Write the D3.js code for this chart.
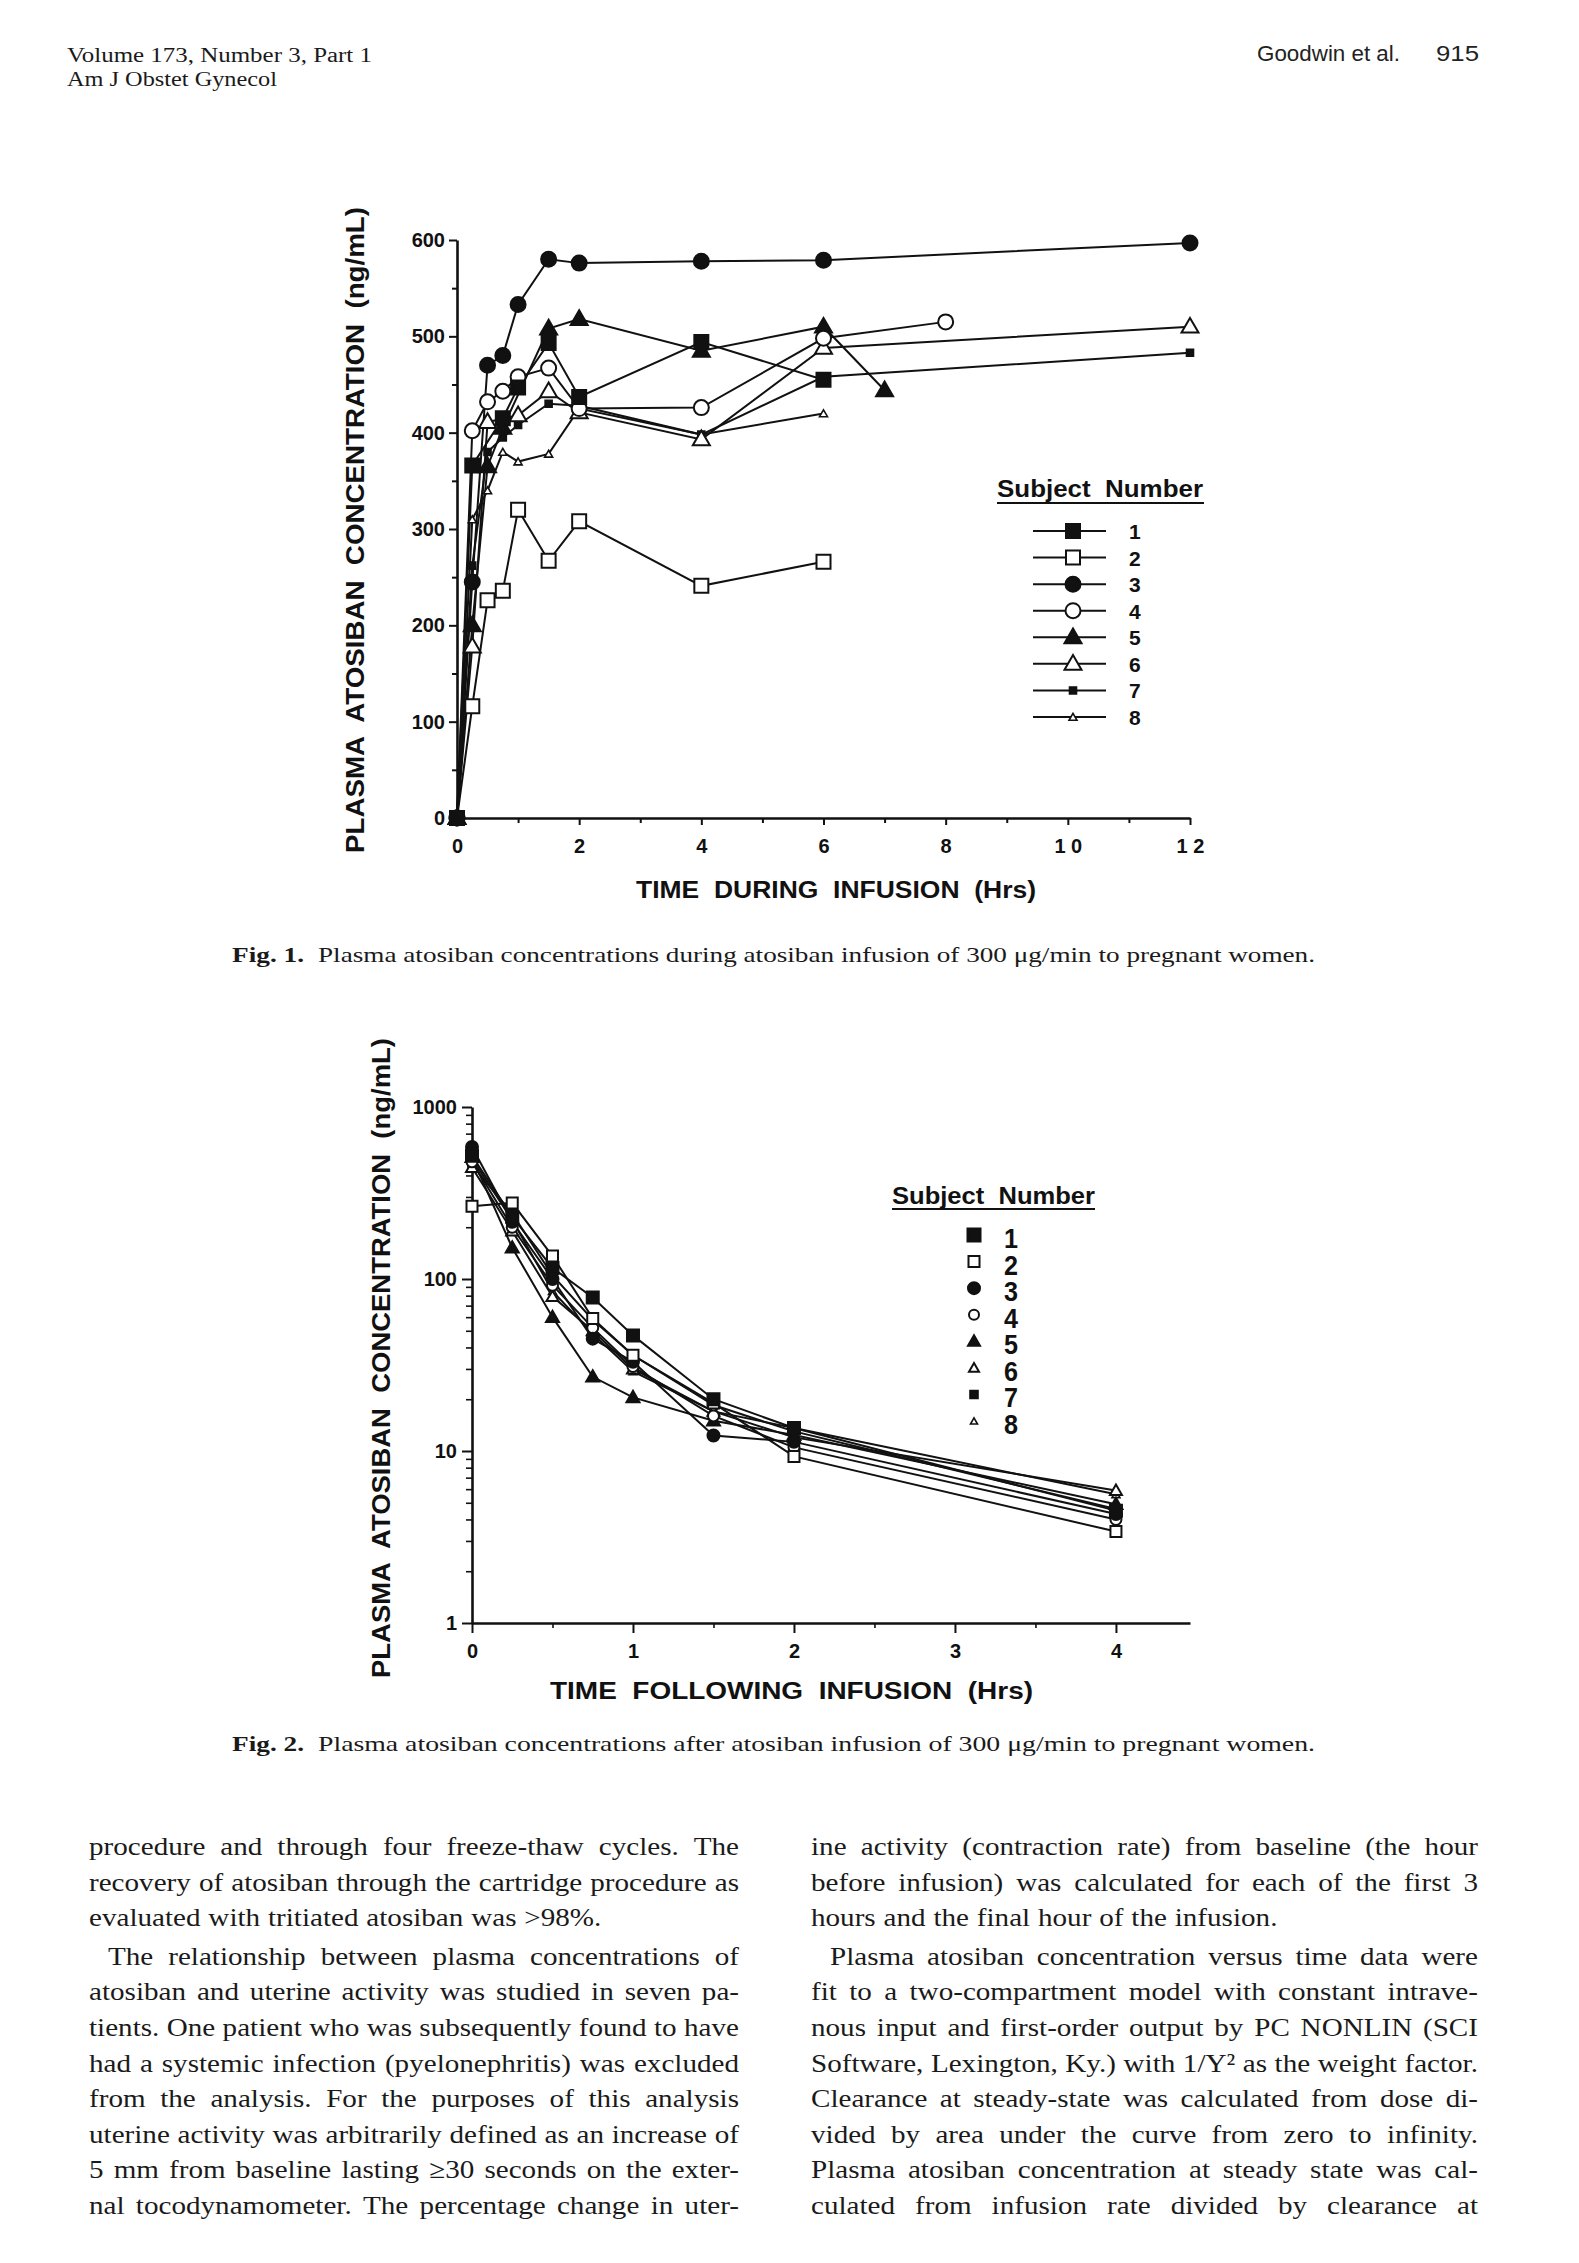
<!DOCTYPE html>
<html>
<head>
<meta charset="utf-8">
<script src="https://cdn.jsdelivr.net/npm/d3@7"></script>
<style>
  body { margin: 0; background: #fff; }
  svg { display: block; }
  .sans { font-family: 'Liberation Sans', Arial, Helvetica, sans-serif; font-weight: bold; fill: #111; }
  .serif { font-family: 'Liberation Serif', 'Times New Roman', serif; fill: #1a1a1a; }
</style>
</head>
<body>
<svg id="page" width="1579" height="2263"></svg>
<script>
// ---- Fig. 1 data: plasma atosiban (ng/mL) during infusion, null = not plotted
const duringHours = [0, 0.25, 0.5, 0.75, 1, 1.5, 2, 4, 6, 7, 8, 12];
const during1 = [0, 366, null, 415, 447, 493, 437, 494, 455, null, null, null];
const during2 = [0, 116, 226, 236, 320, 267, 308, 241, 266, null, null, null];
const during3 = [0, 245, 470, 480, 533, 580, 576, 578, 579, null, null, 597];
const during4 = [0, 402, 432, 443, 458, 467, 425, 426, 498, null, 515, null];
const during5 = [0, 200, 365, 405, null, 508, 518, 485, 510, 444, null, null];
const during6 = [0, 178, 411, null, 418, 443, 421, 393, 488, null, null, 510];
const during7 = [0, 262, 380, 395, 408, 430, 428, 398, 458, null, null, 483];
const during8 = [0, 310, 340, 380, 370, 378, 425, 398, 420, null, null, null];

// ---- Fig. 2 data: plasma atosiban (ng/mL) after infusion (log scale)
const afterHours = [0, 0.25, 0.5, 0.75, 1, 1.5, 2, 4];
const after1 = [520, 230, 116, 78, 47, 20, 13.6, 4.5];
const after2 = [265, 277, 136, 59, 36, 19, 9.3, 3.4];
const after3 = [585, 215, 100, 45, 33, 12.3, 11.3, 4.3];
const after4 = [480, 200, 92, 52, 31, 16, 10.5, 4.0];
const after5 = [510, 152, 60, 27, 20.5, 15, 12.4, 4.9];
const after6 = [445, 190, 79, 50, 30, 17, 12, 5.9];
const after7 = [460, 240, 105, 58, 36, 18.5, 13, 4.6];
const after8 = [500, 220, 85, 48, 29, 17, 13.6, 5.6];

const subjects = ['1', '2', '3', '4', '5', '6', '7', '8'];
const hourLabels1 = ['0', '2', '4', '6', '8', '1 0', '1 2'];
const concLabels1 = ['0', '100', '200', '300', '400', '500', '600'];
const hourLabels2 = ['0', '1', '2', '3', '4'];
const concLabels2 = ['1', '10', '100', '1000'];

const leftLines = [
  'procedure and through four freeze-thaw cycles. The',
  'recovery of atosiban through the cartridge procedure as',
  'evaluated with tritiated atosiban was >98%.',
  'The relationship between plasma concentrations of',
  'atosiban and uterine activity was studied in seven pa-',
  'tients. One patient who was subsequently found to have',
  'had a systemic infection (pyelonephritis) was excluded',
  'from the analysis. For the purposes of this analysis',
  'uterine activity was arbitrarily defined as an increase of',
  '5 mm from baseline lasting \u226530 seconds on the exter-',
  'nal tocodynamometer. The percentage change in uter-'
];
const rightLines = [
  'ine activity (contraction rate) from baseline (the hour',
  'before infusion) was calculated for each of the first 3',
  'hours and the final hour of the infusion.',
  'Plasma atosiban concentration versus time data were',
  'fit to a two-compartment model with constant intrave-',
  'nous input and first-order output by PC NONLIN (SCI',
  'Software, Lexington, Ky.) with 1/Y\u00b2 as the weight factor.',
  'Clearance at steady-state was calculated from dose di-',
  'vided by area under the curve from zero to infinity.',
  'Plasma atosiban concentration at steady state was cal-',
  'culated from infusion rate divided by clearance at'
];

// marker styles per subject
const shapes = ['square', 'square', 'circle', 'circle', 'triangle', 'triangle', 'square', 'triangle'];
const filled = [true, false, true, false, true, false, true, false];
const size1 = [14, 14, 15, 15, 17, 17, 7, 8];
const size2 = [12, 11, 12, 11, 13, 12, 8, 8];

const svg = d3.select('#page');
svg.append('rect').attr('width', 1579).attr('height', 2263).attr('fill', '#fff');

function symbolPath(shape, w) {
  if (shape === 'circle') return d3.symbol(d3.symbolCircle, Math.PI * w * w / 4)();
  if (shape === 'square') return d3.symbol(d3.symbolSquare, w * w)();
  return d3.symbol(d3.symbolTriangle, Math.sqrt(3) / 4 * w * w)();
}

function marker(g, i, w, cx, cy) {
  const small = w < 9;
  g.append('path')
    .attr('d', symbolPath(shapes[i], w))
    .attr('transform', `translate(${cx},${cy + (shapes[i] === 'triangle' ? 1 : 0)})`)
    .attr('fill', filled[i] ? '#111' : '#fff')
    .attr('stroke', '#111')
    .attr('stroke-width', small ? 1.6 : 2);
}

function styleAxis(g, fontSize) {
  g.selectAll('.domain').attr('stroke', '#111').attr('stroke-width', 2.6);
  g.selectAll('.tick line').attr('stroke', '#111').attr('stroke-width', 2);
  g.selectAll('text').attr('class', 'sans').attr('font-size', fontSize).attr('fill', '#111');
}

// ---------------- header
svg.append('text').attr('class', 'serif').attr('x', 67).attr('y', 62)
  .attr('font-size', 20).attr('textLength', 305).attr('lengthAdjust', 'spacingAndGlyphs')
  .text('Volume 173, Number 3, Part 1');
svg.append('text').attr('class', 'serif').attr('x', 67).attr('y', 86)
  .attr('font-size', 20).attr('textLength', 210).attr('lengthAdjust', 'spacingAndGlyphs')
  .text('Am J Obstet Gynecol');
svg.append('text').attr('x', 1257).attr('y', 61)
  .style('font-family', "'Liberation Sans', Arial, sans-serif").attr('font-size', 22).attr('fill', '#222')
  .attr('textLength', 143).attr('lengthAdjust', 'spacingAndGlyphs').text('Goodwin et al.');
svg.append('text').attr('x', 1436).attr('y', 61)
  .style('font-family', "'Liberation Sans', Arial, sans-serif").attr('font-size', 22).attr('fill', '#222')
  .attr('textLength', 43).attr('lengthAdjust', 'spacingAndGlyphs').text('915');

// ---------------- Fig. 1
const x1 = d3.scaleLinear().domain([0, 12]).range([457, 1190]);
const y1 = d3.scaleLinear().domain([0, 600]).range([818, 240]);
const during = [during1, during2, during3, during4, during5, during6, during7, during8];

const f1 = svg.append('g');
const ax1y = f1.append('g').attr('transform', `translate(${x1(0)},0)`)
  .call(d3.axisLeft(y1).tickValues(d3.range(0, 601, 100)).tickSize(8).tickSizeOuter(0).tickPadding(4)
    .tickFormat((d, i) => concLabels1[i]));
styleAxis(ax1y, 20);
ax1y.append('g').call(d3.axisLeft(y1).tickValues(d3.range(50, 600, 100)).tickSize(5).tickFormat(''))
  .call(g => g.select('.domain').remove())
  .selectAll('line').attr('stroke', '#111').attr('stroke-width', 2);

const ax1x = f1.append('g').attr('transform', `translate(0,${y1(0)})`)
  .call(d3.axisBottom(x1).tickValues(d3.range(0, 13, 2)).tickSize(7).tickSizeOuter(0).tickPadding(14)
    .tickFormat((d, i) => hourLabels1[i]));
styleAxis(ax1x, 20);
ax1x.selectAll('text').style('white-space', 'pre');
ax1x.append('g').call(d3.axisBottom(x1).tickValues(d3.range(1, 12, 2)).tickSize(5).tickFormat(''))
  .call(g => g.select('.domain').remove())
  .selectAll('line').attr('stroke', '#111').attr('stroke-width', 2);

const line1 = d3.line().x(d => x1(d.t)).y(d => y1(d.v));
const pts1 = during.map(arr => duringHours.map((t, k) => ({ t, v: arr[k] })).filter(d => d.v !== null));
pts1.forEach(p => {
  f1.append('path').attr('d', line1(p)).attr('fill', 'none').attr('stroke', '#111').attr('stroke-width', 2);
});
for (let i = pts1.length - 1; i >= 0; i--) {
  pts1[i].forEach(d => marker(f1, i, size1[i], x1(d.t), y1(d.v)));
}

f1.append('text').attr('class', 'sans').attr('x', 636).attr('y', 898).attr('font-size', 23)
  .attr('textLength', 400).attr('lengthAdjust', 'spacingAndGlyphs').style('white-space', 'pre')
  .text('TIME  DURING  INFUSION  (Hrs)');
f1.append('text').attr('class', 'sans').attr('transform', 'translate(364,853) rotate(-90)')
  .attr('font-size', 25).attr('textLength', 646).attr('lengthAdjust', 'spacingAndGlyphs')
  .style('white-space', 'pre').text('PLASMA  ATOSIBAN  CONCENTRATION  (ng/mL)');

// legend 1
const lg1 = f1.append('g');
lg1.append('text').attr('class', 'sans').attr('x', 997).attr('y', 497).attr('font-size', 24)
  .attr('textLength', 206).attr('lengthAdjust', 'spacingAndGlyphs').style('white-space', 'pre')
  .text('Subject  Number');
lg1.append('line').attr('x1', 997).attr('x2', 1204).attr('y1', 503).attr('y2', 503)
  .attr('stroke', '#111').attr('stroke-width', 2);
const legY1 = d3.scalePoint().domain(subjects).range([531, 717]);
subjects.forEach((s, i) => {
  const cy = legY1(s);
  lg1.append('line').attr('x1', 1033).attr('x2', 1106).attr('y1', cy).attr('y2', cy)
    .attr('stroke', '#111').attr('stroke-width', 2);
  marker(lg1, i, size1[i], 1073, cy);
  lg1.append('text').attr('class', 'sans').attr('x', 1129).attr('y', cy + 8).attr('font-size', 21).text(s);
});

// caption 1
svg.append('text').attr('class', 'serif').attr('x', 232).attr('y', 962).attr('font-size', 21)
  .attr('font-weight', 'bold').attr('textLength', 72).attr('lengthAdjust', 'spacingAndGlyphs').text('Fig. 1.');
svg.append('text').attr('class', 'serif').attr('x', 318).attr('y', 962).attr('font-size', 21)
  .attr('textLength', 997).attr('lengthAdjust', 'spacingAndGlyphs')
  .text('Plasma atosiban concentrations during atosiban infusion of 300 \u03bcg/min to pregnant women.');

// ---------------- Fig. 2
const x2 = d3.scaleLinear().domain([0, 4.46]).range([472, 1190]);
const y2 = d3.scaleLog().domain([1, 1000]).range([1623, 1107]);
const after = [after1, after2, after3, after4, after5, after6, after7, after8];

const f2 = svg.append('g');
const ax2y = f2.append('g').attr('transform', `translate(${x2(0)},0)`)
  .call(d3.axisLeft(y2).tickValues([1, 10, 100, 1000]).tickSize(10).tickSizeOuter(0).tickPadding(5)
    .tickFormat((d, i) => concLabels2[i]));
styleAxis(ax2y, 20);
const minorLog = [];
[1, 10, 100].forEach(dec => d3.range(2, 10).forEach(m => minorLog.push(dec * m)));
ax2y.append('g').call(d3.axisLeft(y2).tickValues(minorLog).tickSize(6).tickFormat(''))
  .call(g => g.select('.domain').remove())
  .selectAll('line').attr('stroke', '#111').attr('stroke-width', 1.6);

const ax2x = f2.append('g').attr('transform', `translate(0,${y2(1)})`)
  .call(d3.axisBottom(x2).tickValues([0, 1, 2, 3, 4]).tickSize(10).tickSizeOuter(0).tickPadding(11)
    .tickFormat((d, i) => hourLabels2[i]));
styleAxis(ax2x, 20);
ax2x.append('g').call(d3.axisBottom(x2).tickValues([0.5, 1.5, 2.5, 3.5]).tickSize(5).tickFormat(''))
  .call(g => g.select('.domain').remove())
  .selectAll('line').attr('stroke', '#111').attr('stroke-width', 1.6);

const line2 = d3.line().x(d => x2(d.t)).y(d => y2(d.v));
const pts2 = after.map(arr => afterHours.map((t, k) => ({ t, v: arr[k] })));
pts2.forEach(p => {
  f2.append('path').attr('d', line2(p)).attr('fill', 'none').attr('stroke', '#111').attr('stroke-width', 2);
});
for (let i = pts2.length - 1; i >= 0; i--) {
  pts2[i].forEach(d => marker(f2, i, size2[i], x2(d.t), y2(d.v)));
}

f2.append('text').attr('class', 'sans').attr('x', 550).attr('y', 1699).attr('font-size', 23)
  .attr('textLength', 483).attr('lengthAdjust', 'spacingAndGlyphs').style('white-space', 'pre')
  .text('TIME  FOLLOWING  INFUSION  (Hrs)');
f2.append('text').attr('class', 'sans').attr('transform', 'translate(390,1678) rotate(-90)')
  .attr('font-size', 25).attr('textLength', 640).attr('lengthAdjust', 'spacingAndGlyphs')
  .style('white-space', 'pre').text('PLASMA  ATOSIBAN  CONCENTRATION  (ng/mL)');

// legend 2
const lg2 = f2.append('g');
lg2.append('text').attr('class', 'sans').attr('x', 892).attr('y', 1204).attr('font-size', 24)
  .attr('textLength', 203).attr('lengthAdjust', 'spacingAndGlyphs').style('white-space', 'pre')
  .text('Subject  Number');
lg2.append('line').attr('x1', 892).attr('x2', 1095).attr('y1', 1209).attr('y2', 1209)
  .attr('stroke', '#111').attr('stroke-width', 2);
const legY2 = d3.scalePoint().domain(subjects).range([1238, 1424]);
const legSize2 = [13, 11, 12, 10, 12, 10, 8, 7];
subjects.forEach((s, i) => {
  const cy = legY2(s);
  marker(lg2, i, legSize2[i], 974, cy - 3);
  lg2.append('text').attr('class', 'sans').attr('x', 1011).attr('y', cy + 10).attr('font-size', 28)
    .attr('text-anchor', 'middle').attr('textLength', 14).attr('lengthAdjust', 'spacingAndGlyphs').text(s);
});

// caption 2
svg.append('text').attr('class', 'serif').attr('x', 232).attr('y', 1751).attr('font-size', 21)
  .attr('font-weight', 'bold').attr('textLength', 72).attr('lengthAdjust', 'spacingAndGlyphs').text('Fig. 2.');
svg.append('text').attr('class', 'serif').attr('x', 318).attr('y', 1751).attr('font-size', 21)
  .attr('textLength', 997).attr('lengthAdjust', 'spacingAndGlyphs')
  .text('Plasma atosiban concentrations after atosiban infusion of 300 \u03bcg/min to pregnant women.');

// ---------------- body text, justified by spreading the words
function column(lines, left, right, lastRight) {
  const sx = 1.12;
  lines.forEach((ln, k) => {
    const indent = k === 3 ? 19 : 0;
    const y = 1855 + k * 35.6 + (k >= 3 ? 3 : 0);
    const g = svg.append('g').attr('transform', `translate(${left + indent},${y}) scale(${sx},1)`);
    const t = g.append('text').attr('class', 'serif').attr('font-size', 26);
    const words = ln.split(' ');
    const spans = words.map(w => t.append('tspan').text(w));
    const widths = spans.map(s => s.node().getComputedTextLength());
    const avail = ((k === 2 ? lastRight : right) - left - indent) / sx;
    let gap = (avail - d3.sum(widths)) / (words.length - 1);
    if (k === 2) gap = Math.min(gap, 7);
    gap = Math.max(2, gap);
    let x = 0;
    spans.forEach((s, i) => { s.attr('x', x); x += widths[i] + gap; });
  });
}
column(leftLines, 89, 739, 612);
column(rightLines, 811, 1478, 1311);
</script>
</body>
</html>
